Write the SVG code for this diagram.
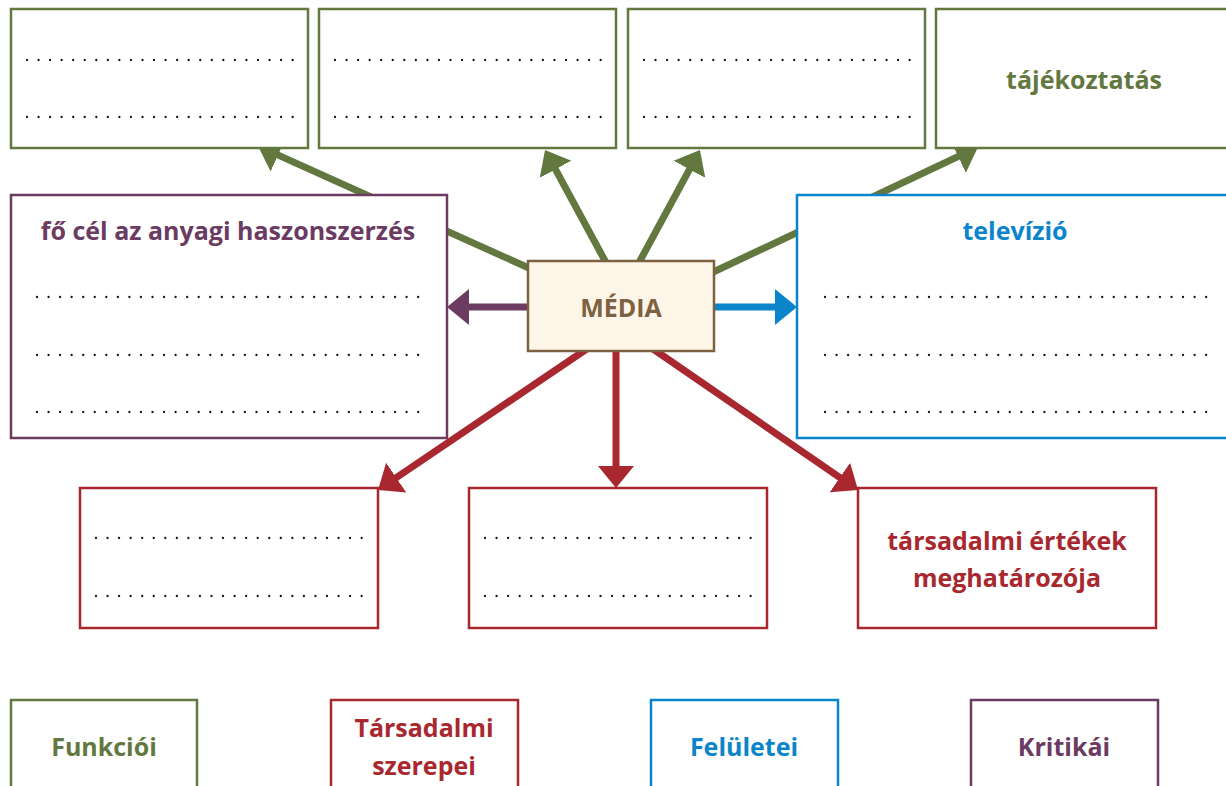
<svg xmlns="http://www.w3.org/2000/svg" width="1226" height="786" viewBox="0 0 1226 786">
<style>
.box{fill:#fff;stroke-width:2.5}
.g{stroke:#62783e}.p{stroke:#6b3b62}.b{stroke:#0a85cc}.r{stroke:#a9272e}
.dots{stroke:#111;stroke-width:2.3;stroke-linecap:round;stroke-dasharray:0 11.55;fill:none}
.t{font-family:"Open Sans","Liberation Sans",sans-serif;font-weight:700;font-size:25px;text-anchor:middle}
.tg{fill:#62783e}.tp{fill:#6b3b62}.tb{fill:#0a85cc}.tr{fill:#a9272e}
.arr{stroke-width:7;fill:none}
</style>
<defs>
<marker id="mg" markerUnits="userSpaceOnUse" markerWidth="30" markerHeight="40" viewBox="0 -20 30 40" refX="12" refY="0" orient="auto"><path d="M0,-18 L22,0 L0,18 z" fill="#62783e"/></marker>
<marker id="mp" markerUnits="userSpaceOnUse" markerWidth="30" markerHeight="40" viewBox="0 -20 30 40" refX="12" refY="0" orient="auto"><path d="M0,-18 L22,0 L0,18 z" fill="#6b3b62"/></marker>
<marker id="mb" markerUnits="userSpaceOnUse" markerWidth="30" markerHeight="40" viewBox="0 -20 30 40" refX="12" refY="0" orient="auto"><path d="M0,-18 L22,0 L0,18 z" fill="#0a85cc"/></marker>
<marker id="mr" markerUnits="userSpaceOnUse" markerWidth="30" markerHeight="40" viewBox="0 -20 30 40" refX="12" refY="0" orient="auto"><path d="M0,-18 L22,0 L0,18 z" fill="#a9272e"/></marker>
</defs>

<g id="connectors">
<line class="arr g" x1="560" y1="282" x2="267.1" y2="150.1" marker-end="url(#mg)"/>
<line class="arr g" x1="610" y1="270" x2="549.8" y2="158.8" marker-end="url(#mg)"/>
<line class="arr g" x1="635" y1="270" x2="695.2" y2="158.8" marker-end="url(#mg)"/>
<line class="arr g" x1="690" y1="283" x2="969" y2="151.3" marker-end="url(#mg)"/>
<line class="arr p" x1="600" y1="307" x2="457" y2="307" marker-end="url(#mp)"/>
<line class="arr b" x1="640" y1="307" x2="787" y2="307" marker-end="url(#mb)"/>
<line class="arr r" x1="600" y1="340" x2="386.3" y2="484.4" marker-end="url(#mr)"/>
<line class="arr r" x1="616" y1="330" x2="616" y2="478" marker-end="url(#mr)"/>
<line class="arr r" x1="640" y1="340" x2="849.8" y2="484.3" marker-end="url(#mr)"/>
</g>

<g id="top1"><rect class="box g" x="11" y="9" width="297" height="139"/>
<line class="dots" x1="27" y1="60" x2="293" y2="60"/><line class="dots" x1="27" y1="117" x2="293" y2="117"/></g>
<g id="top2"><rect class="box g" x="319" y="9" width="297" height="139"/>
<line class="dots" x1="335" y1="60" x2="601" y2="60"/><line class="dots" x1="335" y1="117" x2="601" y2="117"/></g>
<g id="top3"><rect class="box g" x="628" y="9" width="297" height="139"/>
<line class="dots" x1="644" y1="60" x2="910" y2="60"/><line class="dots" x1="644" y1="117" x2="910" y2="117"/></g>
<g id="top4"><rect class="box g" x="936" y="9" width="310" height="139"/>
<text class="t tg" x="1084" y="89">tájékoztatás</text></g>

<g id="purple"><rect class="box p" x="11" y="195" width="436" height="243"/>
<text class="t tp" x="228" y="240">fő cél az anyagi haszonszerzés</text>
<line class="dots" x1="37" y1="297" x2="422" y2="297"/>
<line class="dots" x1="37" y1="355" x2="422" y2="355"/>
<line class="dots" x1="37" y1="412" x2="422" y2="412"/></g>

<g id="blue"><rect class="box b" x="797" y="195" width="450" height="243"/>
<text class="t tb" x="1015" y="240">televízió</text>
<line class="dots" x1="825" y1="297" x2="1210" y2="297"/>
<line class="dots" x1="825" y1="355" x2="1210" y2="355"/>
<line class="dots" x1="825" y1="412" x2="1210" y2="412"/></g>

<g id="media"><rect x="528" y="261" width="186" height="90" fill="#fdf6e8" stroke="#7d6141" stroke-width="2.5"/>
<text class="t" x="621" y="317" fill="#7d6141" font-size="28">MÉDIA</text></g>

<g id="red1"><rect class="box r" x="80" y="488" width="298" height="140"/>
<line class="dots" x1="96" y1="538" x2="362" y2="538"/><line class="dots" x1="96" y1="596" x2="362" y2="596"/></g>
<g id="red2"><rect class="box r" x="469" y="488" width="298" height="140"/>
<line class="dots" x1="485" y1="538" x2="751" y2="538"/><line class="dots" x1="485" y1="596" x2="751" y2="596"/></g>
<g id="red3"><rect class="box r" x="858" y="488" width="298" height="140"/>
<text class="t tr" x="1007" y="550">társadalmi értékek</text>
<text class="t tr" x="1007" y="587">meghatározója</text></g>

<g id="leg1"><rect class="box g" x="11" y="700" width="186" height="100"/><text class="t tg" x="104" y="756">Funkciói</text></g>
<g id="leg2"><rect class="box r" x="331" y="700" width="187" height="100"/><text class="t tr" x="424" y="737">Társadalmi</text><text class="t tr" x="424" y="775">szerepei</text></g>
<g id="leg3"><rect class="box b" x="651" y="700" width="187" height="100"/><text class="t tb" x="744" y="756">Felületei</text></g>
<g id="leg4"><rect class="box p" x="971" y="700" width="187" height="100"/><text class="t tp" x="1064" y="756">Kritikái</text></g>
</svg>
